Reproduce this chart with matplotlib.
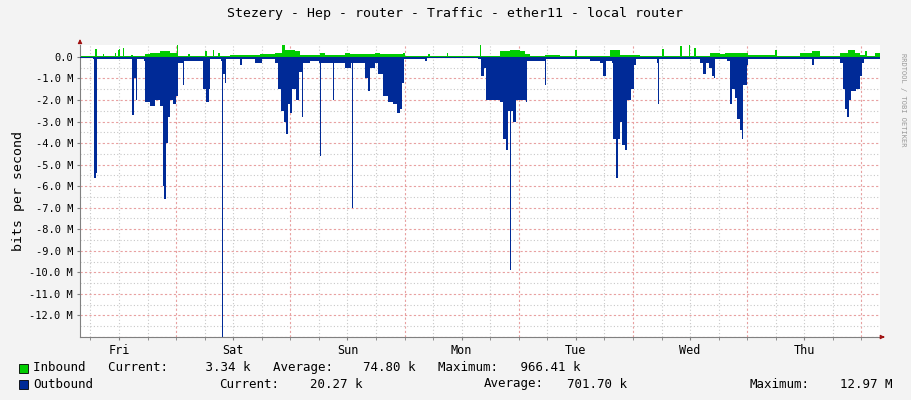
import matplotlib
matplotlib.use("Agg")
import matplotlib.pyplot as plt
import numpy as np

# hours since Fri 00:00
out_t = [3.8,6.6,6.8,7.2,7.4,14.6,14.8,15.2,15.6,15.8,17.3,17.5,18.5,19.6,20.6,21.3,21.5,21.9,22.3,22.8,23.4,24.0,24.4,
         25.5,25.7,28.0,29.7,30.3,30.9,31.2,33.5,33.7,33.9,34.3,34.5,37.5,37.9,40.6,42.1,44.8,45.4,46.0,46.7,47.1,47.5,
         48.0,48.4,49.2,49.9,50.5,50.7,52.2,54.0,54.2,54.4,57.0,57.2,59.5,60.8,61.0,61.2,63.7,64.3,64.8,65.8,66.5,67.5,
         68.6,69.6,70.4,71.1,71.5,71.9,76.3,76.7,87.4,88.0,88.7,89.1,91.0,92.0,92.7,93.3,93.7,94.2,94.4,94.8,95.4,97.5,
         97.7,101.5,101.7,110.9,113.0,113.7,114.3,115.6,115.8,116.4,116.8,117.2,117.7,118.3,118.7,119.6,120.2,120.6,
         125.0,125.2,125.4,134.0,134.7,135.3,135.9,136.5,136.7,137.1,137.3,139.8,140.4,140.9,141.5,141.9,142.4,142.8,
         143.2,143.9,144.1,152.9,157.6,158.0,159.3,163.5,164.1,164.5,165.0,165.4,165.8,166.9,167.7,168.1,168.6,171.9]
out_v = [-0.05,-0.1,-5.6,-5.4,-0.1,-0.1,-2.7,-1.0,-2.0,-0.1,-0.2,-2.1,-2.3,-2.0,-2.3,-6.0,-6.6,-4.0,-2.8,-2.0,-2.2,-1.8,-0.3,
         -1.3,-0.2,-0.2,-1.5,-2.1,-1.5,-0.1,-0.2,-13.0,-0.8,-1.2,-0.1,-0.4,-0.1,-0.3,-0.1,-0.3,-1.5,-2.5,-3.0,-3.6,-2.2,
         -2.6,-1.5,-2.0,-0.7,-2.8,-0.3,-0.2,-0.3,-4.6,-0.3,-2.0,-0.3,-0.5,-0.3,-7.0,-0.3,-1.0,-1.6,-0.5,-0.3,-0.8,-1.8,
         -2.1,-2.2,-2.6,-2.4,-1.2,-0.1,-0.2,0.0,-0.1,-0.9,-0.5,-2.0,-2.0,-2.1,-3.8,-4.3,-2.5,-9.9,-2.5,-3.0,-2.0,-2.1,
         -0.2,-1.3,-0.1,-0.2,-0.3,-0.9,-0.2,-0.3,-3.8,-5.6,-3.8,-3.0,-4.1,-4.3,-2.0,-1.5,-0.4,-0.1,
         -0.3,-2.2,-0.1,-0.3,-0.8,-0.3,-0.5,-0.3,-0.9,-1.0,-0.1,-0.2,-2.2,-1.5,-1.9,-2.9,-3.4,-3.8,
         -1.3,-0.4,-0.1,-0.1,-0.4,-0.1,-0.1,-0.3,-1.5,-2.4,-2.8,-2.0,-1.6,-1.5,-0.9,-0.3,-0.1,-0.1]

in_t = [3.8,6.6,7.0,7.4,8.7,8.9,11.2,11.4,11.8,12.0,12.2,12.9,13.1,14.6,15.0,17.5,18.5,20.6,22.8,23.8,24.2,24.4,26.5,26.9,
        30.1,30.5,31.8,32.0,32.8,33.2,35.3,39.5,41.6,44.8,46.3,46.9,49.0,50.0,54.2,55.3,58.4,59.5,60.5,61.6,65.8,66.8,
        70.0,71.7,72.1,76.9,77.3,80.9,81.1,87.8,88.0,92.0,94.2,96.2,97.3,98.3,101.5,104.6,107.8,108.2,115.1,116.2,117.2,
        121.4,126.0,126.6,129.9,130.3,131.7,131.9,132.8,133.2,136.1,138.2,139.3,142.4,144.1,149.8,150.2,155.0,157.6,159.3,
        163.5,165.1,166.6,167.7,168.8,169.2,170.9,171.9]
in_v = [0.02,0.05,0.35,0.05,0.15,0.02,0.2,0.02,0.3,0.35,0.02,0.4,0.02,0.1,0.02,0.15,0.18,0.25,0.2,0.2,0.6,0.05,0.12,0.02,
        0.25,0.05,0.3,0.05,0.2,0.02,0.1,0.1,0.15,0.2,0.55,0.3,0.25,0.1,0.2,0.1,0.1,0.2,0.15,0.12,0.2,0.15,
        0.15,0.2,0.05,0.15,0.02,0.2,0.02,0.6,0.05,0.25,0.3,0.25,0.15,0.05,0.1,0.05,0.3,0.05,0.3,0.3,0.1,
        0.05,0.35,0.05,0.5,0.05,1.0,0.05,0.4,0.05,0.2,0.15,0.2,0.2,0.1,0.3,0.05,0.2,0.25,0.05,
        0.2,0.3,0.2,0.1,0.25,0.05,0.2,0.02]

days = ["Fri", "Sat", "Sun", "Mon", "Tue", "Wed", "Thu"]
yticks = list(range(0, -13, -1))

mono = "DejaVu Sans Mono"
fig = plt.figure(figsize=(9.11, 4.0), dpi=100, facecolor="#F3F3F3")
ax = fig.add_axes([80/911, 1-337/400, 800/911, 292/400])
ax.set_facecolor("white")
xmin, xmax = 3.8, 171.9
ax.set_xlim(xmin, xmax)
ax.set_ylim(-13.0, 0.55)

for h in np.arange(6, 172, 6):
    c = "#E8A0A0" if h % 24 == 0 else "#C8C8C8"
    ls = (0, (2, 2)) if h % 24 == 0 else (0, (1, 2))
    ax.axvline(h, color=c, lw=0.8, ls=ls, zorder=0)
for y in np.arange(0, -13.01, -0.5):
    if y % 1 == 0:
        ax.axhline(y, color="#E8A0A0", lw=0.8, ls=(0, (2, 2)), zorder=0)
    else:
        ax.axhline(y, color="#C8C8C8", lw=0.8, ls=(0, (1, 2)), zorder=0)

ax.fill_between(in_t, 0, in_v, color="#00CC00", lw=0, step="post", zorder=2)
ax.fill_between(out_t, 0, out_v, color="#002A97", lw=0, step="post", zorder=3)
ax.axhline(0, color="#002A97", lw=0.8, zorder=4)

for s in ["top", "right"]:
    ax.spines[s].set_visible(False)
for s in ["left", "bottom"]:
    ax.spines[s].set_color("#808080")
ax.set_yticks(yticks)
ax.set_yticklabels(["0.0"] + [f"{v}.0 M" for v in yticks[1:]], fontfamily=mono, fontsize=7.5)
ax.set_xticks([12 + 24*i for i in range(7)])
ax.set_xticklabels(days, fontfamily=mono, fontsize=8.5)
ax.tick_params(length=2, color="#808080", pad=3)
ax.set_xticks(np.arange(6, 172, 6), minor=True)
ax.tick_params(which="minor", length=2, color="#808080")
ax.set_ylabel("bits per second", fontfamily=mono, fontsize=9.5, labelpad=3)

ax.annotate("", xy=(1.006, 0), xycoords="axes fraction", xytext=(1.0, 0),
            arrowprops=dict(arrowstyle="-|>", color="#A01010", lw=0.8, mutation_scale=6), annotation_clip=False)
ax.annotate("", xy=(0, 1.03), xycoords="axes fraction", xytext=(0, 1.0),
            arrowprops=dict(arrowstyle="-|>", color="#A01010", lw=0.8, mutation_scale=6), annotation_clip=False)

fig.text(455/911, 1-14/400, "Stezery - Hep - router - Traffic - ether11 - local router",
         ha="center", va="center", fontfamily=mono, fontsize=9.5)
fig.text(903/911, 1-100/400, "RRDTOOL / TOBI OETIKER", rotation=270, ha="center", va="center",
         fontfamily=mono, fontsize=5, color="#999999")

def box(y, col):
    fig.patches.append(plt.Rectangle((19/911, 1-(y+5)/400), 9/911, 9/400, transform=fig.transFigure,
                                     facecolor=col, edgecolor="black", lw=0.6))
box(368, "#00CC00")
box(384, "#002A97")
kw = dict(fontfamily=mono, fontsize=9, va="center")
fig.text(33/911, 1-368/400, "Inbound   Current:     3.34 k   Average:    74.80 k   Maximum:   966.41 k", **kw)
fig.text(33/911, 1-384/400, "Outbound", **kw)
fig.text(219/911, 1-384/400, "Current:", **kw)
fig.text(362/911, 1-384/400, "20.27 k", ha="right", **kw)
fig.text(484/911, 1-384/400, "Average:", **kw)
fig.text(627/911, 1-384/400, "701.70 k", ha="right", **kw)
fig.text(749/911, 1-384/400, "Maximum:", **kw)
fig.text(893/911, 1-384/400, "12.97 M", ha="right", **kw)

fig.savefig("out.png", dpi=100, facecolor=fig.get_facecolor())
